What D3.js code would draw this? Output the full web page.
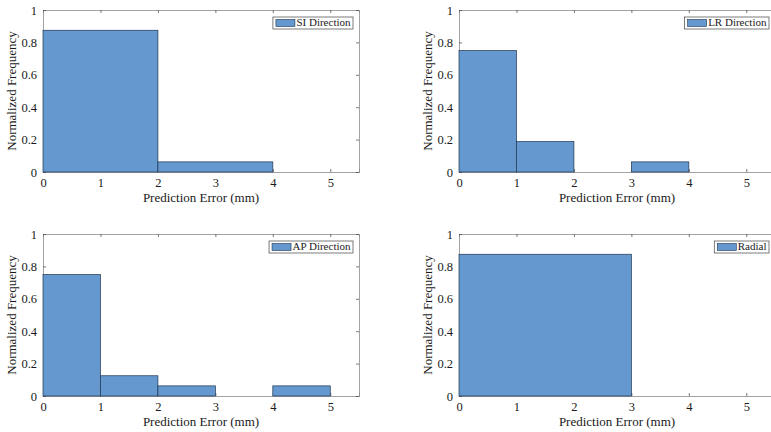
<!DOCTYPE html>
<html>
<head>
<meta charset="utf-8">
<script src="https://cdn.jsdelivr.net/npm/d3@7"></script>
<style>
  body { margin: 0; background: #fff; }
</style>
</head>
<body>
<div id="viz-container"></div>
<script>
// bin edges and normalized frequency for each histogram
let siEdges = [0, 2, 4];
let siValues = [0.875, 0.0625];
let lrEdges = [0, 1, 2, 3, 4];
let lrValues = [0.75, 0.1875, 0, 0.0625];
let apEdges = [0, 1, 2, 3, 4, 5];
let apValues = [0.75, 0.125, 0.0625, 0, 0.0625];
let radEdges = [0, 3];
let radValues = [0.875];

let xTicks = [0, 1, 2, 3, 4, 5];
let yTicks = [0, 0.2, 0.4, 0.6, 0.8, 1];
let legendNames = ["SI Direction", "LR Direction", "AP Direction", "Radial"];

let serif = "Liberation Serif";

let viz = d3.select("#viz-container")
  .append("svg")
    .attr("width", 771)
    .attr("height", 432)
    .attr("font-family", serif);

let W = 316, H = 162;   // plot box size
let panels = [
  {left: 43,  top: 10,  edges: siEdges,  values: siValues,  name: legendNames[0]},
  {left: 459, top: 10,  edges: lrEdges,  values: lrValues,  name: legendNames[1]},
  {left: 43,  top: 234, edges: apEdges,  values: apValues,  name: legendNames[2]},
  {left: 459, top: 234, edges: radEdges, values: radValues, name: legendNames[3]}
];

let fillColor = "#6498cf";
let edgeColor = "#1f3550";
let boxColor = "#8a8a8a";

panels.forEach(drawPanel);

function drawPanel(p){
  let g = viz.append("g").attr("transform", `translate(${p.left}, ${p.top})`);
  let x = d3.scaleLinear().domain([0, 5.5]).range([0, W]);
  let y = d3.scaleLinear().domain([0, 1]).range([H, 0]);

  // axes, ticks inward on all four sides
  let bottom = g.append("g").attr("transform", `translate(0, ${H})`)
    .call(d3.axisBottom(x).tickValues(xTicks).tickSize(-3).tickPadding(6).tickFormat(d3.format("d")));
  let top = g.append("g")
    .call(d3.axisTop(x).tickValues(xTicks).tickSize(-3).tickFormat(""));
  let left = g.append("g")
    .call(d3.axisLeft(y).tickValues(yTicks).tickSize(-3).tickPadding(6).tickFormat(d => d3.format("")(d)));
  let right = g.append("g").attr("transform", `translate(${W}, 0)`)
    .call(d3.axisRight(y).tickValues(yTicks).tickSize(-3).tickFormat(""));

  [bottom, top, left, right].forEach(a => {
    a.attr("font-family", serif);
    a.select(".domain").attr("stroke", boxColor).attr("stroke-width", 0.8);
    a.selectAll(".tick line").attr("stroke", "#555").attr("stroke-width", 0.8);
    a.selectAll("text").attr("font-size", 12.5).attr("fill", "#1a1a1a").attr("font-family", serif);
  });

  let bins = p.values.map((v, i) => ({x0: p.edges[i], x1: p.edges[i + 1], v: v}))
    .filter(d => d.v > 0);

  g.selectAll("rect.bar").data(bins).enter()
    .append("rect")
      .attr("class", "bar")
      .attr("x", d => x(d.x0))
      .attr("y", d => y(d.v))
      .attr("width", d => x(d.x1) - x(d.x0))
      .attr("height", d => y(0) - y(d.v))
      .attr("fill", fillColor)
      .attr("stroke", edgeColor)
      .attr("stroke-width", 0.7);

  g.append("text")
    .attr("x", x(2.75))
    .attr("y", H + 30)
    .attr("text-anchor", "middle")
    .attr("font-size", 13)
    .attr("font-family", serif)
    .attr("fill", "#1a1a1a")
    .text("Prediction Error (mm)");

  g.append("text")
    .attr("transform", `translate(-27, ${H / 2}) rotate(-90)`)
    .attr("text-anchor", "middle")
    .attr("font-size", 13)
    .attr("font-family", serif)
    .attr("fill", "#1a1a1a")
    .text("Normalized Frequency");

  // legend
  let lg = g.append("g");
  let lt = lg.append("text")
    .attr("font-size", 11)
    .attr("font-family", serif)
    .attr("fill", "#1a1a1a")
    .attr("y", 16)
    .text(p.name);
  let tw = lt.node().getComputedTextLength();
  let lw = tw + 26;
  let lx = W - 6 - lw;
  lg.insert("rect", "text")
    .attr("x", lx).attr("y", 7)
    .attr("width", lw).attr("height", 12)
    .attr("fill", "#fff")
    .attr("stroke", "#444")
    .attr("stroke-width", 0.7);
  lg.append("rect")
    .attr("x", lx + 3).attr("y", 9.5)
    .attr("width", 19).attr("height", 7)
    .attr("fill", fillColor)
    .attr("stroke", edgeColor)
    .attr("stroke-width", 0.6);
  lt.attr("x", lx + 23.5);
}
</script>
</body>
</html>
